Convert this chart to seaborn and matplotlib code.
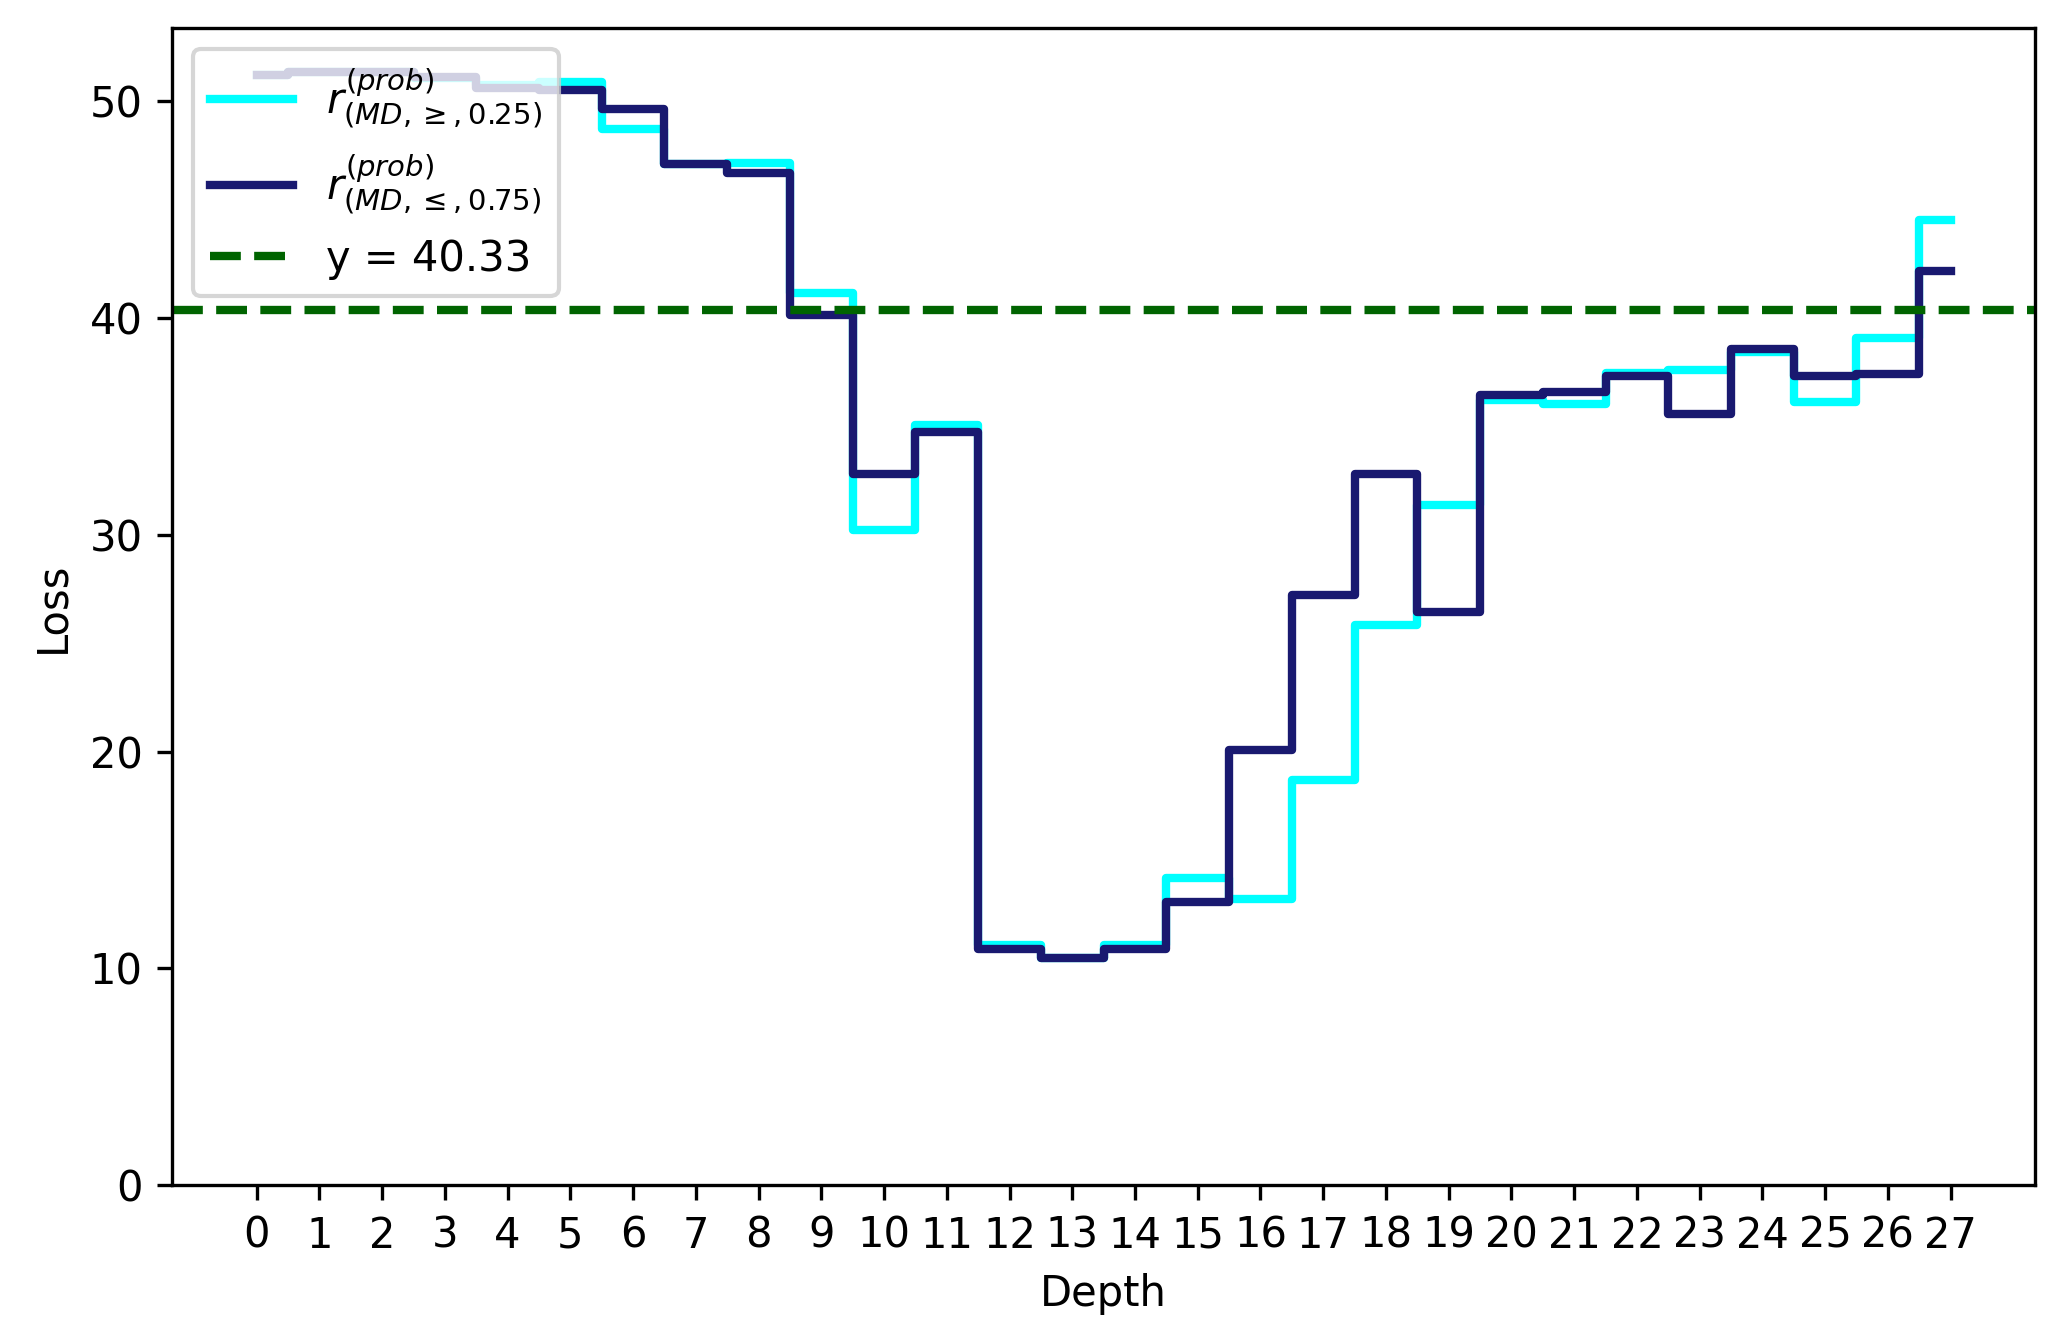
import matplotlib
matplotlib.use("Agg")
import matplotlib.pyplot as plt
import seaborn as sns
import numpy as np

# depth index 0..27
depth = np.arange(28)

# loss per depth
loss_ge_025 = [51.2, 51.3, 51.3, 51.05, 50.7, 50.85, 48.7, 47.1, 47.15, 41.15,
               30.2, 35.05, 11.1, 10.5, 11.1, 14.15, 13.2, 18.7, 25.85, 31.35,
               36.2, 36.0, 37.45, 37.6, 38.4, 36.1, 39.05, 44.5]
loss_le_075 = [51.2, 51.3, 51.3, 51.1, 50.6, 50.5, 49.6, 47.1, 46.65, 40.1,
               32.8, 34.75, 10.9, 10.5, 10.9, 13.05, 20.05, 27.2, 32.8, 26.45,
               36.45, 36.55, 37.3, 35.55, 38.55, 37.3, 37.4, 42.15]
threshold = 40.33

label_ge = r"$r^{(prob)}_{(MD, \geq, 0.25)}$"
label_le = r"$r^{(prob)}_{(MD, \leq, 0.75)}$"

fig = plt.figure(figsize=(2060 / 300, 1344 / 300), dpi=300)
ax = fig.add_axes([0.0835, 0.118, 0.9045, 0.861])

sns.lineplot(x=depth, y=loss_ge_025, ax=ax, color="cyan", linewidth=2,
             drawstyle="steps-mid", label=label_ge)
sns.lineplot(x=depth, y=loss_le_075, ax=ax, color="midnightblue", linewidth=2,
             drawstyle="steps-mid", label=label_le)
ax.axhline(threshold, color="darkgreen", linestyle="--", linewidth=2,
           label=f"y = {threshold}")

ax.set_ylim(bottom=0)
ax.set_xticks(depth)
ax.set_xlabel("Depth")
ax.set_ylabel("Loss")
ax.legend(loc="upper left")

fig.savefig("out.png", dpi=300)
plt.close(fig)
